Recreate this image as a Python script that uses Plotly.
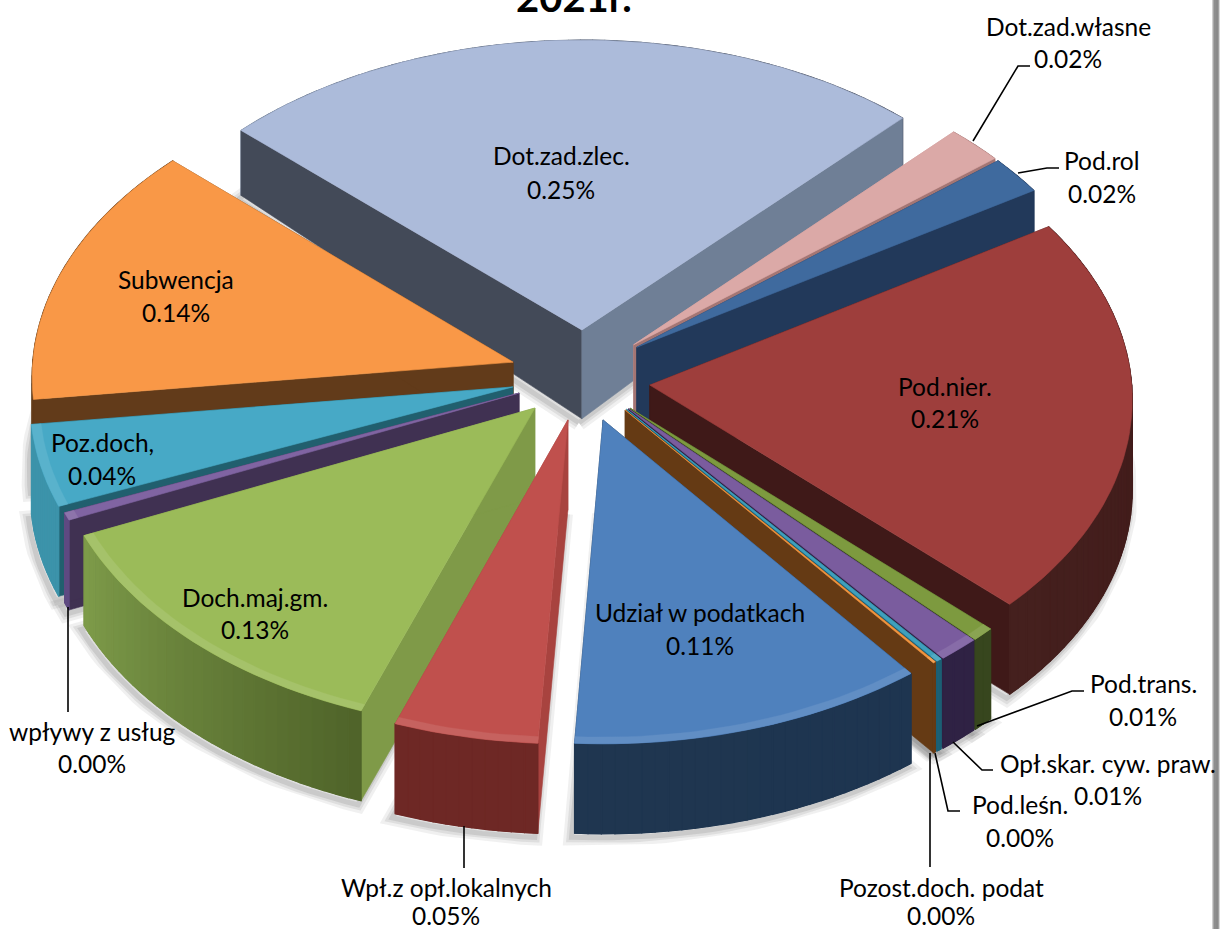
import math
import plotly.graph_objects as go

# ---- data -------------------------------------------------------------
names = ["Dot.zad.zlec.", "Dot.zad.własne", "Pod.rol", "Pod.nier.", "Pod.trans.",
         "Opł.skar. cyw. praw.", "Pod.leśn.", "Pozost.doch. podat", "Udział w podatkach",
         "Wpł.z opł.lokalnych", "Doch.maj.gm.", "wpływy z usług", "Poz.doch,", "Subwencja"]
values = [0.252, 0.02, 0.02, 0.21, 0.0072, 0.0133, 0.0017, 0.0008, 0.114,
          0.046, 0.128, 0.004, 0.043, 0.138]
# how far each slice is pulled out of the pie, in pie radii (right, back)
pull_u = [-0.017, 0.091, 0.0975, 0.124, 0.083, 0.080, 0.076, 0.0726, 0.027, -0.0456, -0.114, -0.147, -0.160, -0.160]
pull_v = [0.184, 0.135, 0.127, 0.003, -0.072, -0.074, -0.076, -0.078, -0.11, -0.11, -0.0716, -0.023, -0.003, 0.078]

# ---- style ------------------------------------------------------------
top_col = ["#ACBBDA", "#DBA9A7", "#3F6A9E", "#9E3E3C", "#7D9A3F", "#7A5C9E", "#3FA0BC", "#F29540",
           "#4F81BD", "#C0504D", "#9BBB59", "#8064A2", "#47A9C6", "#F99847"]
start_wall = ["#434A58", "#C99A98", "#22395A", "#3F1918", "#37461E", "#2F2244", "#1C6075", "#653A14",
              "#1E3550", "#A8433F", "#7F9A48", "#403152", "#215F6E", "#623B1A"]
end_wall = ["#6F7F96", "#A47674", "#22395A", "#3F1918", "#37461E", "#2F2244", "#1C6075", "#653A14",
            "#1E3550", "#A8433F", "#7F9A48", "#403152", "#215F6E", "#623B1A"]
outer_a = ["#6F7F96", "#A47674", "#22395A", "#3F1918", "#37461E", "#2F2244", "#1C6075", "#653A14",
           "#1E3550", "#6E2825", "#4F6329", "#5F4A82", "#3C93AA", "#623B1A"]
outer_b = ["#434A58", "#A47674", "#22395A", "#45201E", "#37461E", "#2F2244", "#1C6075", "#653A14",
           "#1F3650", "#6E2825", "#7E9C4A", "#5F4A82", "#3C93AA", "#623B1A"]

START = -47.2
CX, CY, RX, RY, P = 590, 386, 482, 307, 0.043
label_pos = [(561, 155, 189), (1068, 26, 58), (1102, 160, 193), (945, 386, 418), (1143, 683, 716),
             (1108, 763, 795), (1020, 804, 837), (941, 887, 915), (700, 612, 645), (446, 887, 915),
             (255, 597, 629), (92, 731, 763), (102, 442, 475), (176, 279, 312)]
leaders = [[(973, 141), (1018, 66), (1030, 66)], [(1018, 173), (1047, 168), (1059, 168)],
           [(977, 726), (1072, 691), (1084, 691)], [(953, 742), (982, 770), (993, 770)],
           [(935, 753), (948, 811), (960, 811)], [(930, 753), (930, 867)],
           [(464, 826), (464, 868)], [(68, 607), (68, 712)]]


def proj(u, v):
    w = 1 + P * v
    return CX + RX * u / w, CY - RY * v / w


def depth(v):
    return 90 - 35 * max(0, v - 0.15)


def mix(c1, c2, t):
    a = [int(c1[i:i + 2], 16) for i in (1, 3, 5)]
    b = [int(c2[i:i + 2], 16) for i in (1, 3, 5)]
    return "#%02x%02x%02x" % tuple(round(a[k] + (b[k] - a[k]) * t) for k in range(3))


fig = go.Figure()


def poly(pts, color, lw=0.6):
    xs = [p[0] for p in pts] + [pts[0][0]]
    ys = [p[1] for p in pts] + [pts[0][1]]
    fig.add_trace(go.Scatter(x=xs, y=ys, mode="lines", fill="toself", fillcolor=color,
                             line=dict(color=color, width=lw), hoverinfo="skip", showlegend=False))


total = sum(values)
slices = []
acc = START
for i, val in enumerate(values):
    a0 = acc
    a1 = acc + val / total * 360
    acc = a1
    mid = math.radians((a0 + a1) / 2)
    ou, ov = pull_u[i], pull_v[i]
    n = max(2, int((a1 - a0) / 1.5))
    angs = [math.radians(a0 + (a1 - a0) * k / n) for k in range(n + 1)]
    plane = [(ou + math.sin(t), ov + math.cos(t)) for t in angs]
    slices.append(dict(i=i, mid=mid, apex=(ou, ov), plane=plane, angs=angs))


def top_pt(p):
    return proj(*p)


def bot_pt(p):
    x, y = proj(*p)
    return x, y + depth(p[1])


for s in slices:
    pts = [bot_pt(s["apex"])] + [bot_pt(p) for p in s["plane"]]
    pts = [(x - 3, y + 4) for x, y in pts]
    xs = [p[0] for p in pts] + [pts[0][0]]
    ys = [p[1] for p in pts] + [pts[0][1]]
    for lw, al in ((16, 0.10), (10, 0.14), (5, 0.18)):
        fig.add_trace(go.Scatter(x=xs, y=ys, mode="lines", line=dict(color=f"rgba(110,110,110,{al})", width=lw),
                                 hoverinfo="skip", showlegend=False))

for s in sorted(slices, key=lambda d: -math.cos(d["mid"])):
    i = s["i"]
    ap = s["apex"]
    pl = s["plane"]
    m = len(pl) - 1

    def segs(front):
        idx = [k for k in range(m) if (math.cos((s["angs"][k] + s["angs"][k + 1]) / 2) < 0) == front]
        if idx:
            base = [top_pt(pl[k]) for k in range(idx[0], idx[-1] + 2)] + \
                   [bot_pt(pl[k]) for k in range(idx[-1] + 1, idx[0] - 1, -1)]
            poly(base, mix(outer_a[i], outer_b[i], 0.5))
        for k in idx:
            col = mix(outer_a[i], outer_b[i], (k + 0.5) / m)
            poly([top_pt(pl[k]), top_pt(pl[k + 1]), bot_pt(pl[k + 1]), bot_pt(pl[k])], col, 1.2)

    segs(False)
    poly([top_pt(ap), top_pt(pl[0]), bot_pt(pl[0]), bot_pt(ap)], start_wall[i])
    poly([top_pt(ap), top_pt(pl[-1]), bot_pt(pl[-1]), bot_pt(ap)], end_wall[i])
    segs(True)
    poly([top_pt(ap)] + [top_pt(p) for p in pl], top_col[i])
    if math.cos(s["mid"]) < -0.2:
        inner = [(ap[0] + (p[0] - ap[0]) * 0.98, ap[1] + (p[1] - ap[1]) * 0.98) for p in pl]
        poly([top_pt(p) for p in pl] + [top_pt(p) for p in reversed(inner)], mix(top_col[i], "#FFFFFF", 0.10), 0.3)

for ld in leaders:
    fig.add_trace(go.Scatter(x=[p[0] for p in ld], y=[p[1] for p in ld], mode="lines",
                             line=dict(color="#000000", width=1.6), hoverinfo="skip", showlegend=False))

FONT = "Lato"
ann = []
for i, (x, y1, y2) in enumerate(label_pos):
    ann.append(dict(x=x, y=y1, text=names[i], showarrow=False, xref="x", yref="y",
                    font=dict(family=FONT, size=24.5, color="#000000")))
    ann.append(dict(x=x, y=y2, text=f"{values[i]:.2f}%", showarrow=False, xref="x", yref="y",
                    font=dict(family=FONT, size=24.5, color="#000000")))
ann.append(dict(x=574 / 1221, y=1 + 3 / 929, text="<b>2021r.</b>", showarrow=False, xref="paper", yref="paper",
                xanchor="center", yanchor="middle", font=dict(family=FONT, size=40, color="#000000")))

frame = []
for x0, c in ((1212, "#D0D0D0"), (1213, "#A8A8A8"), (1214, "#8E8E8E"), (1216, "#8A8A8A"), (1218, "#A0A0A0"), (1219, "#D8D8D8")):
    frame.append(dict(type="rect", xref="x", yref="y", x0=x0, x1=x0 + 2 if x0 in (1214, 1216) else x0 + 1,
                      y0=0, y1=929, fillcolor=c, line=dict(width=0), layer="below"))

fig.update_layout(width=1221, height=929, margin=dict(l=0, r=0, t=0, b=0), paper_bgcolor="#FFFFFF",
                  plot_bgcolor="#FFFFFF", showlegend=False, annotations=ann, shapes=frame,
                  xaxis=dict(range=[0, 1221], visible=False, fixedrange=True),
                  yaxis=dict(range=[929, 0], visible=False, fixedrange=True))
fig.write_html("out.html", config={"displayModeBar": False},
               post_script="document.body.style.margin='0';document.body.style.overflow='hidden';")
